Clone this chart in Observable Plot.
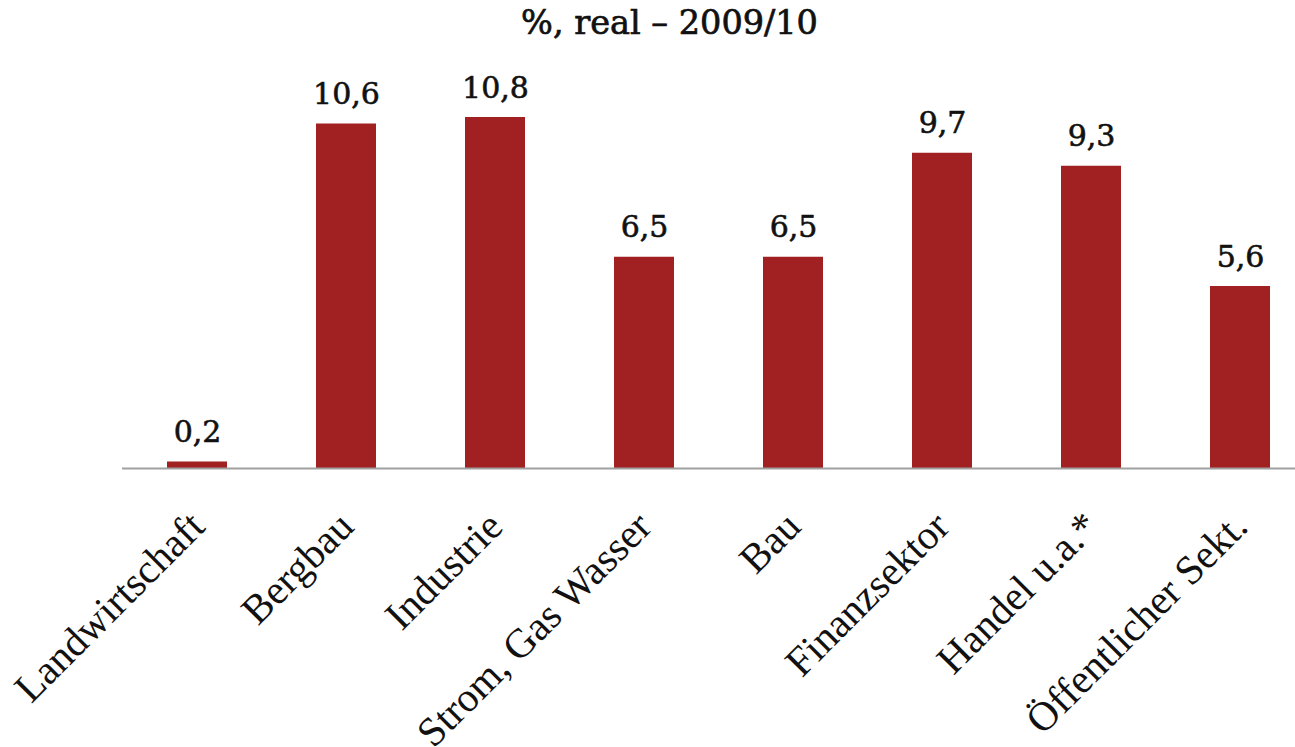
<!DOCTYPE html>
<html>
<head>
<meta charset="utf-8">
<script src="https://cdn.jsdelivr.net/npm/d3@7"></script>
<script src="https://cdn.jsdelivr.net/npm/@observablehq/plot@0.6"></script>
<style>
  body { margin: 0; background: #fff; }
  #wrap { width: 1295px; height: 747px; overflow: hidden; }
  #title {
    height: 50px; box-sizing: border-box; padding-left: 44px; padding-top: 4px;
    text-align: center; font-family: "DejaVu Serif", serif; font-weight: normal;
    font-size: 33.5px; color: #111; line-height: 38px;
    -webkit-text-stroke: 0.7px #111;
  }
  svg { display: block; }
</style>
</head>
<body>
<div id="wrap">
  <div id="title">%, real – 2009/10</div>
  <div id="chart"></div>
</div>
<script>
// Real growth by sector, 2009/10 (%)
const sectors = ["Landwirtschaft", "Bergbau", "Industrie", "Strom, Gas Wasser", "Bau", "Finanzsektor", "Handel u.a.*", "Öffentlicher Sekt."];
const growth = [0.2, 10.6, 10.8, 6.5, 6.5, 9.7, 9.3, 5.6];
const valueLabels = ["0,2", "10,6", "10,8", "6,5", "6,5", "9,7", "9,3", "5,6"];

const data = sectors.map((s, i) => ({sector: s, value: growth[i], label: valueLabels[i]}));

const chart = Plot.plot({
  width: 1295,
  height: 697,
  marginLeft: 122,
  marginRight: 0,
  marginTop: 28,
  marginBottom: 279,
  x: {domain: sectors, range: [122.5, 1314.5], paddingInner: 0.6, paddingOuter: 0.3, axis: null},
  y: {domain: [0, 12], axis: null},
  marks: [
    Plot.barY(data, {x: "sector", y: "value", fill: "#a12021"}),
    Plot.ruleY([0], {stroke: "#a0a0a0", strokeWidth: 2}),
    Plot.text(data, {
      x: "sector", y: "value", text: "label", lineAnchor: "bottom", dy: -20,
      fontFamily: "DejaVu Serif", fontSize: 30, fill: "#111",
      stroke: "#111", strokeWidth: 0.6
    }),
    Plot.text(data, {
      x: "sector", y: 0, text: "sector", rotate: -45, textAnchor: "end", lineAnchor: "middle",
      dy: 51, fontFamily: "Liberation Serif", fontSize: 41, fill: "#111"
    })
  ]
});
document.getElementById("chart").appendChild(chart);
</script>
</body>
</html>
